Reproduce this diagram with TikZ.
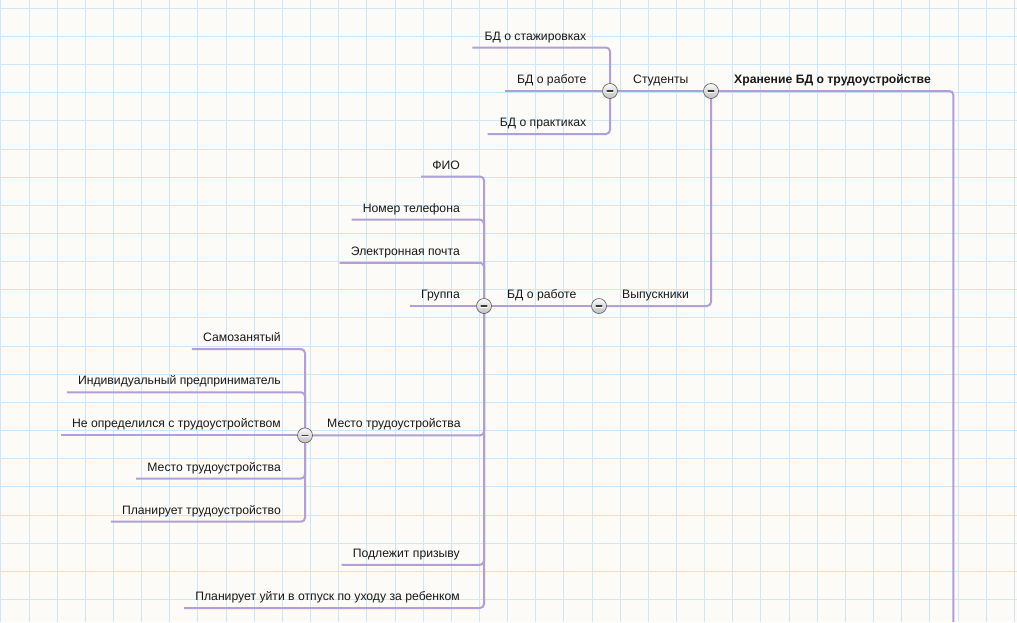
\documentclass[tikz,border=0pt]{standalone}
\usepackage{fontspec}
\setmainfont{Liberation Sans}
\pgfdeclarelayer{gridl}
\pgfdeclarelayer{conl}
\pgfsetlayers{gridl,conl,main}
\definecolor{gridc}{RGB}{205,230,248}
\definecolor{paper}{RGB}{252,251,248}
\definecolor{linec}{RGB}{176,160,214}
\definecolor{txt}{RGB}{25,25,25}
\begin{document}
\begin{tikzpicture}[x=1pt,y=-1pt,
 lbl/.style={font=\fontsize{12.2}{14}\selectfont, text=txt, inner sep=0pt},
 conn/.style={draw=linec, line width=2pt, rounded corners=4pt},
 knob/.style={circle, minimum size=15pt, inner sep=0pt, draw=gray!70!black, line width=0.6pt,
   top color=gray!4, bottom color=gray!50,
   path picture={\draw[line width=2.2pt, white, line cap=round]
     ([xshift=-3.2pt,yshift=-0.4pt]path picture bounding box.center) -- ([xshift=3.2pt,yshift=-0.4pt]path picture bounding box.center);
     \draw[line width=1.3pt, gray!45!black, line cap=round]
     ([xshift=-3pt]path picture bounding box.center) -- ([xshift=3pt]path picture bounding box.center);}}
]
\useasboundingbox (0,0) rectangle (1017,622);
\begin{pgfonlayer}{gridl}
\fill[paper] (0,0) rectangle (1017,622);
\foreach \i in {0,...,36} \draw[gridc, line width=1pt] ({0.9+28.15*\i},0) -- ({0.9+28.15*\i},622);
\foreach \j in {0,...,21} \draw[gridc, line width=1pt] (0,{8.3+28.15*\j}) -- (1017,{8.3+28.15*\j});
\end{pgfonlayer}

% knobs
\node[knob] (R) at (711,91) {};
\node[knob] (S) at (610,91) {};
\node[knob] (V) at (599,306) {};
\node[knob] (B) at (484,306) {};
\node[knob] (M) at (305,435.4) {};
\coordinate (Rend) at (953.3,622);

% labels right of knobs
\node[lbl, anchor=base west, font=\fontsize{12.2}{14}\selectfont\bfseries] (root) at (734,83.5) {Хранение БД о трудоустройстве};
\node[lbl, anchor=base west] (stud) at (633,83.5) {Студенты};
\node[lbl, anchor=base west] (vyp) at (622,298.5) {Выпускники};
\node[lbl, anchor=base west] (bdr) at (507,298.5) {БД о работе};
\node[lbl, anchor=base west] (mesto) at (327,427.9) {Место трудоустройства};

% children of S
\node[lbl, anchor=base east] (s1) at (586.5,40) {БД о стажировках};
\node[lbl, anchor=base east] (s2) at (586.5,83.5) {БД о работе};
\node[lbl, anchor=base east] (s3) at (586.5,126.5) {БД о практиках};

% children of B
\node[lbl, anchor=base east] (b1) at (460,169) {ФИО};
\node[lbl, anchor=base east] (b2) at (460,212.2) {Номер телефона};
\node[lbl, anchor=base east] (b3) at (460,255.3) {Электронная почта};
\node[lbl, anchor=base east] (b4) at (460,298.5) {Группа};
\node[lbl, anchor=base east] (b6) at (460,557.3) {Подлежит призыву};
\node[lbl, anchor=base east] (b7) at (460,600.5) {Планирует уйти в отпуск по уходу за ребенком};

% children of M
\node[lbl, anchor=base east] (m1) at (281,341.6) {Самозанятый};
\node[lbl, anchor=base east] (m2) at (281,384.75) {Индивидуальный предприниматель};
\node[lbl, anchor=base east] (m3) at (281,427.9) {Не определился с трудоустройством};
\node[lbl, anchor=base east] (m4) at (281,471.05) {Место трудоустройства};
\node[lbl, anchor=base east] (m5) at (281,514.2) {Планирует трудоустройство};

\begin{pgfonlayer}{conl}
\draw[conn] (R.center) -| (Rend);
\draw[conn] (S.center) -- (R.center);
\draw[conn] (V.center) -| (R.center);
\draw[conn] (B.center) -- (V.center);
\draw[conn] (M.center) -| (B.center);
\draw[conn] ([shift={(-12,7.5)}]s1.base west) -| (S.center);
\draw[conn] ([shift={(-12,7.5)}]s2.base west) -- (S.center);
\draw[conn] ([shift={(-12,7.5)}]s3.base west) -| (S.center);
\draw[conn] ([shift={(-11,7.5)}]b1.base west) -| (B.center);
\draw[conn] ([shift={(-11,7.5)}]b2.base west) -| (B.center);
\draw[conn] ([shift={(-11,7.5)}]b3.base west) -| (B.center);
\draw[conn] ([shift={(-11,7.5)}]b4.base west) -- (B.center);
\draw[conn] ([shift={(-11,7.5)}]b6.base west) -| (B.center);
\draw[conn] ([shift={(-11,7.5)}]b7.base west) -| (B.center);
\draw[conn] ([shift={(-11,7.5)}]m1.base west) -| (M.center);
\draw[conn] ([shift={(-11,7.5)}]m2.base west) -| (M.center);
\draw[conn] ([shift={(-11,7.5)}]m3.base west) -- (M.center);
\draw[conn] ([shift={(-11,7.5)}]m4.base west) -| (M.center);
\draw[conn] ([shift={(-11,7.5)}]m5.base west) -| (M.center);
\end{pgfonlayer}
\end{tikzpicture}
\end{document}
